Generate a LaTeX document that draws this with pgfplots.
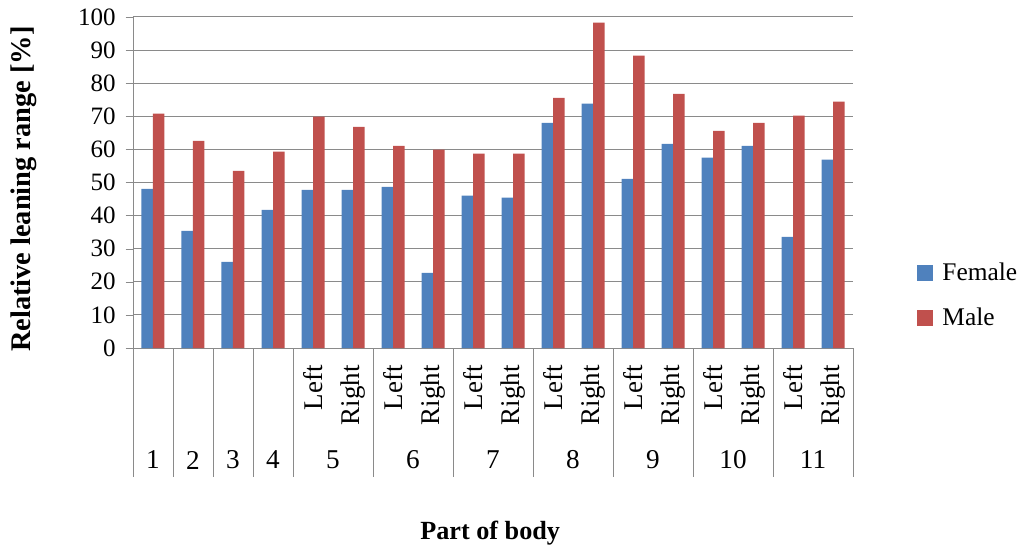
\documentclass[border=0pt]{standalone}
\usepackage{pgfplots}
\pgfplotsset{compat=1.18}
\usepackage{fontspec}
\setmainfont{Liberation Serif}
\definecolor{fem}{HTML}{4F81BD}
\definecolor{mal}{HTML}{C0504D}
\definecolor{gridc}{HTML}{8A8A8A}
\begin{document}
\begin{tikzpicture}[font=\fontsize{12.5}{14}\selectfont]
\useasboundingbox (-66.5pt,-99pt) rectangle (445pt,174pt);
\begin{axis}[
 at={(0,0)}, anchor=south west,
 width=360pt, height=165.5pt, scale only axis,
 ybar=0pt, bar width=5.75pt,
 xmin=-0.5, xmax=17.5, ymin=0, ymax=100,
 xtick=\empty,
 ytick={0,10,...,100},
 axis x line*=bottom, axis y line*=left,
 axis line style={gridc,-},
 ymajorgrids, grid style={gridc, line width=0.5pt},
 tick align=outside, major tick length=3.7pt,
 tick style={gridc},
 /pgf/number format/assume math mode=true,
 yticklabel style={xshift=-1.5pt, font=\fontsize{12.5}{14}\selectfont},
 legend style={at={(1.089,0.1586)}, anchor=west, draw=none, fill=none, inner sep=0pt,
   font=\fontsize{12.7}{14}\selectfont,
   nodes={inner sep=0pt, minimum height=22.5pt}, row sep=0pt, column sep=4.5pt},
 legend image code/.code={\fill[#1] (0pt,-4pt) rectangle (8pt,4pt);},
 legend cell align=left,
 clip=false,
]
\addplot[draw=none, fill=fem] coordinates {
(0,48.1) (1,35.4) (2,26.0) (3,41.7) (4,47.8) (5,47.8) (6,48.7) (7,22.7) (8,46.0)
(9,45.4) (10,68.0) (11,73.8) (12,51.1) (13,61.7) (14,57.5) (15,61.1) (16,33.6) (17,56.9)};
\addplot[draw=none, fill=mal] coordinates {
(0,70.8) (1,62.6) (2,53.5) (3,59.3) (4,69.9) (5,66.8) (6,61.1) (7,59.9) (8,58.7)
(9,58.7) (10,75.6) (11,98.3) (12,88.3) (13,76.8) (14,65.6) (15,68.0) (16,70.2) (17,74.4)};
\legend{Female,Male}
% category separators
\draw[gridc] (axis cs:-0.5,0) -- ++(0pt,-64.3pt);
\draw[gridc] (axis cs:0.5,0) -- ++(0pt,-64.3pt);
\draw[gridc] (axis cs:1.5,0) -- ++(0pt,-64.3pt);
\draw[gridc] (axis cs:2.5,0) -- ++(0pt,-64.3pt);
\draw[gridc] (axis cs:3.5,0) -- ++(0pt,-64.3pt);
\draw[gridc] (axis cs:5.5,0) -- ++(0pt,-64.3pt);
\draw[gridc] (axis cs:7.5,0) -- ++(0pt,-64.3pt);
\draw[gridc] (axis cs:9.5,0) -- ++(0pt,-64.3pt);
\draw[gridc] (axis cs:11.5,0) -- ++(0pt,-64.3pt);
\draw[gridc] (axis cs:13.5,0) -- ++(0pt,-64.3pt);
\draw[gridc] (axis cs:15.5,0) -- ++(0pt,-64.3pt);
\draw[gridc] (axis cs:17.5,0) -- ++(0pt,-64.3pt);
% Left / Right labels
\begin{scope}[every node/.style={rotate=90, anchor=east, inner sep=0pt, font=\fontsize{13.5}{15}\selectfont}]
\node at ([yshift=-8.5pt]axis cs:4,0) {Left};
\node at ([yshift=-8.5pt]axis cs:5,0) {Right};
\node at ([yshift=-8.5pt]axis cs:6,0) {Left};
\node at ([yshift=-8.5pt]axis cs:7,0) {Right};
\node at ([yshift=-8.5pt]axis cs:8,0) {Left};
\node at ([yshift=-8.5pt]axis cs:9,0) {Right};
\node at ([yshift=-8.5pt]axis cs:10,0) {Left};
\node at ([yshift=-8.5pt]axis cs:11,0) {Right};
\node at ([yshift=-8.5pt]axis cs:12,0) {Left};
\node at ([yshift=-8.5pt]axis cs:13,0) {Right};
\node at ([yshift=-8.5pt]axis cs:14,0) {Left};
\node at ([yshift=-8.5pt]axis cs:15,0) {Right};
\node at ([yshift=-8.5pt]axis cs:16,0) {Left};
\node at ([yshift=-8.5pt]axis cs:17,0) {Right};
\end{scope}
% group numbers
\begin{scope}[every node/.style={font=\fontsize{13.6}{15}\selectfont}]
\node at ([yshift=-56pt]axis cs:0,0) {1};
\node at ([yshift=-56pt]axis cs:1,0) {2};
\node at ([yshift=-56pt]axis cs:2,0) {3};
\node at ([yshift=-56pt]axis cs:3,0) {4};
\node at ([yshift=-56pt]axis cs:4.5,0) {5};
\node at ([yshift=-56pt]axis cs:6.5,0) {6};
\node at ([yshift=-56pt]axis cs:8.5,0) {7};
\node at ([yshift=-56pt]axis cs:10.5,0) {8};
\node at ([yshift=-56pt]axis cs:12.5,0) {9};
\node at ([yshift=-56pt]axis cs:14.5,0) {10};
\node at ([yshift=-56pt]axis cs:16.5,0) {11};
\end{scope}
% axis titles
\node[rotate=90, font=\fontsize{14.2}{16}\selectfont\bfseries] at ([xshift=-54.5pt]axis cs:-0.5,48) {Relative leaning range [\%]};
\node[font=\fontsize{13.1}{15}\selectfont\bfseries] at ([yshift=-92.5pt]axis cs:8.43,0) {Part of body};
\end{axis}
\end{tikzpicture}
\end{document}
